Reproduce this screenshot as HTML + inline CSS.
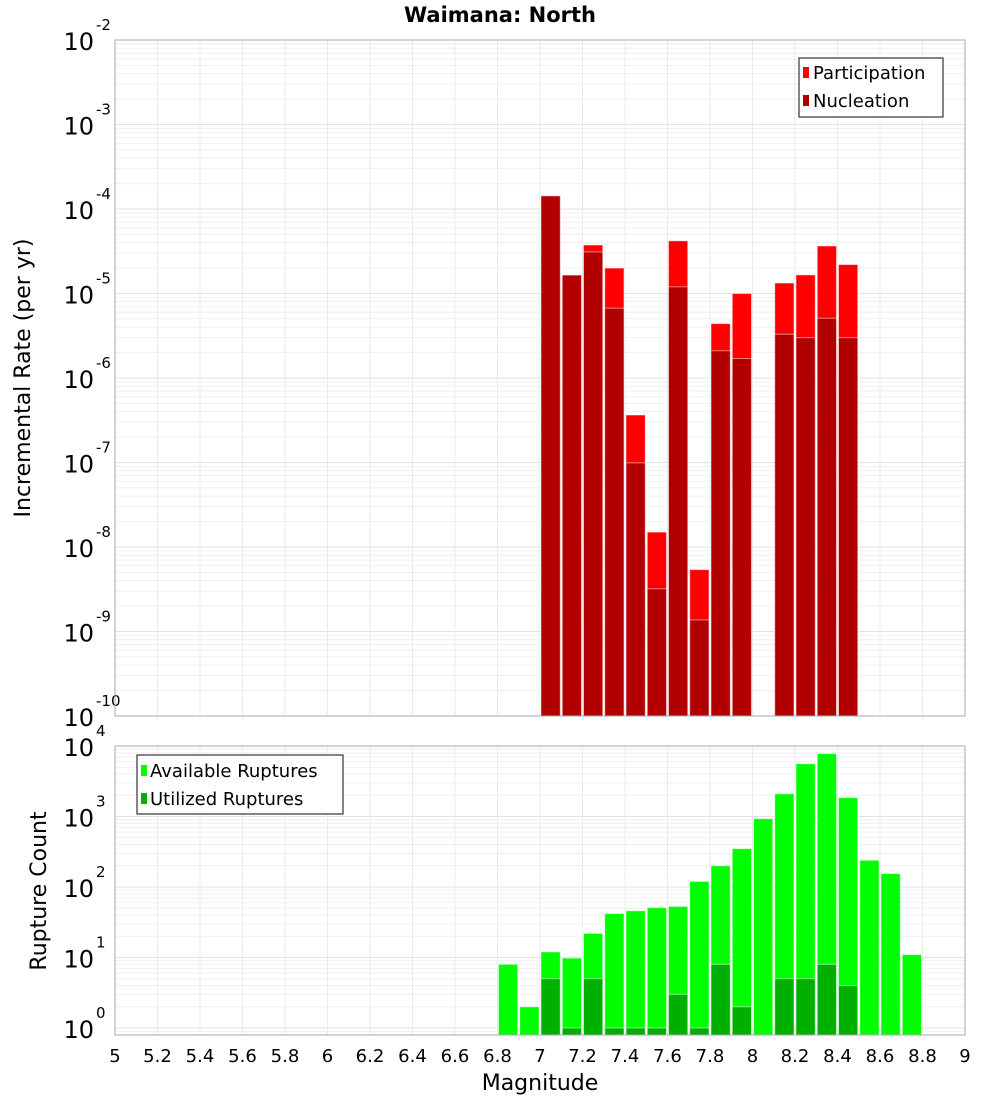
<!DOCTYPE html>
<html><head><meta charset="utf-8"><style>
body{margin:0;background:#fff;font-family:"Liberation Sans","DejaVu Sans",sans-serif}
svg text{font-family:"DejaVu Sans","Liberation Sans",sans-serif}
</style></head><body>
<svg id="c" width="1000" height="1100" xmlns="http://www.w3.org/2000/svg">
<text x="500" y="22" text-anchor="middle" font-size="21" font-weight="bold">Waimana: North</text>
<g id="top"></g>
<g id="bot"></g>
<text x="30" y="378" transform="rotate(-90 30 378)" text-anchor="middle" font-size="22">Incremental Rate (per yr)</text>
<text x="46" y="891" transform="rotate(-90 46 891)" text-anchor="middle" font-size="22">Rupture Count</text>
<text x="540" y="1090" text-anchor="middle" font-size="22">Magnitude</text>
<g>
<rect x="799" y="58" width="144" height="59" fill="#fff" stroke="#333" stroke-width="1.2"/>
<rect x="803" y="67" width="6" height="11" fill="#ff0000"/>
<text x="813" y="79" font-size="18">Participation</text>
<rect x="803" y="95" width="6" height="11" fill="#b20000"/>
<text x="813" y="107" font-size="18">Nucleation</text>
</g>
<g>
<rect x="137" y="755" width="206" height="59" fill="#fff" stroke="#333" stroke-width="1.2"/>
<rect x="141" y="765" width="6" height="11" fill="#00ff00"/>
<text x="150" y="777" font-size="18">Available Ruptures</text>
<rect x="141" y="793" width="6" height="11" fill="#00b000"/>
<text x="150" y="805" font-size="18">Utilized Ruptures</text>
</g>
</svg>
<script>
const rateMags=[7.05,7.15,7.25,7.35,7.45,7.55,7.65,7.75,7.85,7.95,8.15,8.25,8.35,8.45];
const participation=[1.43e-4,1.65e-5,3.75e-5,2.0e-5,3.65e-7,1.5e-8,4.2e-5,5.4e-9,4.4e-6,1.0e-5,1.33e-5,1.66e-5,3.65e-5,2.2e-5];
const nucleation=[1.43e-4,1.65e-5,3.1e-5,6.7e-6,9.9e-8,3.2e-9,1.2e-5,1.37e-9,2.1e-6,1.7e-6,3.3e-6,3.0e-6,5.1e-6,3.0e-6];
const countMags=[6.85,6.95,7.05,7.15,7.25,7.35,7.45,7.55,7.65,7.75,7.85,7.95,8.05,8.15,8.25,8.35,8.45,8.55,8.65,8.75];
const available=[8,2,12,9.8,22,42,46,51,53,120,200,350,930,2100,5600,7800,1850,240,155,11];
const utilized=[0,0,5,1,5,1,1,1,3,1,8,2,0,5,5,8,4,0,0,0];
const xTicks=[5,5.2,5.4,5.6,5.8,6,6.2,6.4,6.6,6.8,7,7.2,7.4,7.6,7.8,8,8.2,8.4,8.6,8.8,9];
const rateExps=[-10,-9,-8,-7,-6,-5,-4,-3,-2];
const countExps=[0,1,2,3,4];
const NS='http://www.w3.org/2000/svg';
const X0=115,X1=965;
const x=m=>X0+(m-5)/4*(X1-X0);
function el(p,t,a){const e=document.createElementNS(NS,t);for(const k in a)e.setAttribute(k,a[k]);p.appendChild(e);return e;}
function panel(g,top,bot,ymap,lo,hi,exps,labelDx){
  el(g,'rect',{x:X0,y:top,width:X1-X0,height:bot-top,fill:'#fff'});
  for(let d=Math.floor(lo);d<hi;d++)for(let k=1;k<10;k++){const v=d+Math.log10(k);if(v<lo||v>hi)continue;
    const l=el(g,'line',{x1:X0,x2:X1,y1:ymap(v),y2:ymap(v),stroke:k==1?'#e2e2e2':'#efefef','stroke-width':1});
    
    }
  xTicks.forEach(t=>{const l=el(g,'line',{x1:x(t),x2:x(t),y1:top,y2:bot,stroke:'#ebebeb'});
    
    });
  exps.forEach(e=>{const t=el(g,'text',{x:94,y:ymap(e)+10,'text-anchor':'end','font-size':24});t.textContent='10';
    
    
    const s=el(g,'text',{x:96,y:ymap(e)-10,'font-size':15});s.textContent=String(e);
    
    });
}
function bars(g,mags,vals,color,ymap,base,name){
  mags.forEach((m,i)=>{if(!(vals[i]>0))return;const yv=ymap(Math.log10(vals[i]));
    const r=el(g,'rect',{x:x(m-0.05)+1,y:yv,width:x(m+0.05)-x(m-0.05)-2,height:base-yv,fill:color,stroke:'rgba(255,255,255,0.5)','stroke-width':1});
    
    });
}
const gt=document.getElementById('top'),gb=document.getElementById('bot');
const yT=v=>40+(-2-v)*84.5;
panel(gt,40,716,yT,-10,-2,rateExps);
bars(gt,rateMags,participation,'#ff0000',yT,716,'participation');
bars(gt,rateMags,nucleation,'#b20000',yT,716,'nucleation');
el(gt,'rect',{x:X0,y:40,width:X1-X0,height:676,fill:'none',stroke:'#aaa'});
const yB=v=>1028-v*70.5;
panel(gb,746,1035,yB,-0.1,4,countExps);
bars(gb,countMags,available,'#00ff00',yB,1035,'available');
bars(gb,countMags,utilized,'#00b000',yB,1035,'utilized');
el(gb,'rect',{x:X0,y:746,width:X1-X0,height:289,fill:'none',stroke:'#aaa'});
xTicks.forEach(t=>{const s=el(gb,'text',{x:x(t),y:1062,'text-anchor':'middle','font-size':18});s.textContent=String(t);
  
  });
</script>
</body></html>
